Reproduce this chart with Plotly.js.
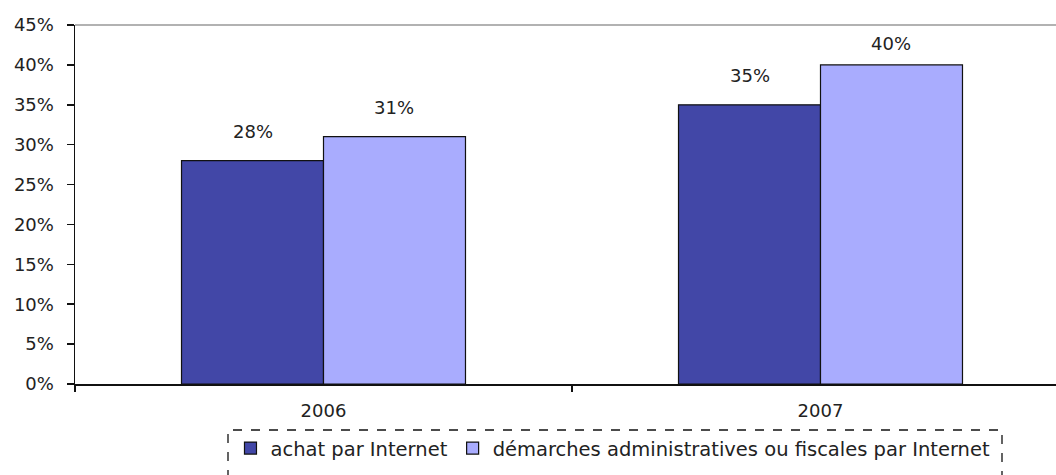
<!DOCTYPE html>
<html>
<head>
<meta charset="utf-8">
<script src="https://cdn.plot.ly/plotly-3.0.1.min.js"></script>
<style>html,body{margin:0;padding:0;background:#fff}#chart{width:1056px;height:475px}</style>
</head>
<body>
<div id="chart"></div>
<script>
const categories = ['2006', '2007'];
const seriesNames = ['achat par Internet', 'démarches administratives ou fiscales par Internet'];
const achat = [28, 35];
const demarches = [31, 40];
const yTickVals = [0, 5, 10, 15, 20, 25, 30, 35, 40, 45];
const yTickText = ['0%', '5%', '10%', '15%', '20%', '25%', '30%', '35%', '40%', '45%'];

const W = 1056, H = 475;
const mL = 75, mR = 0, mT = 25, mB = 91;
const plotW = W - mL - mR, plotH = H - mT - mB;
const bandPx = 497;
const xMax = -0.5 + plotW / bandPx;
const yMax = 45;
const pxPerUnit = plotH / yMax;
const bargap = 0.4286;
const barPx = bandPx * (1 - bargap) / 2;

const font = 'DejaVu Sans, Verdana, Arial, sans-serif';
const txt = '#222222';

const traces = [
  {type: 'bar', name: seriesNames[0], x: categories, y: achat,
   marker: {color: '#4247A7', line: {color: '#111111', width: 1.2}}, hoverinfo: 'skip'},
  {type: 'bar', name: seriesNames[1], x: categories, y: demarches,
   marker: {color: '#A9ACFE', line: {color: '#111111', width: 1.2}}, hoverinfo: 'skip'}
];

function shiftFor(v) {
  const toTop = (yMax - v) * pxPerUnit;
  return Math.min(29, toTop - 18);
}
const annotations = [];
[achat, demarches].forEach((arr, si) => {
  arr.forEach((v, i) => {
    annotations.push({
      x: i, y: v, xref: 'x', yref: 'y',
      text: v + '%', showarrow: false,
      xshift: (si === 0 ? -1 : 1) * barPx / 2,
      yshift: shiftFor(v), yanchor: 'middle', xanchor: 'center',
      font: {family: font, size: 18, color: txt}
    });
  });
});

const layout = {
  width: W, height: H,
  margin: {l: mL, r: mR, t: mT, b: mB, pad: 0},
  paper_bgcolor: '#ffffff', plot_bgcolor: '#ffffff',
  barmode: 'group', bargap: bargap, bargroupgap: 0,
  showlegend: true,
  legend: {
    orientation: 'h', x: 0.5484, xanchor: 'center', y: -0.125, yanchor: 'top',
    font: {family: font, size: 19.5, color: txt},
    bgcolor: 'rgba(0,0,0,0)', borderwidth: 0,
    itemclick: false, itemdoubleclick: false
  },
  xaxis: {
    type: 'category', range: [-0.5, xMax], fixedrange: true,
    showline: true, linecolor: '#111111', linewidth: 1.5,
    ticks: 'outside', tickson: 'boundaries', ticklen: 6, tickcolor: '#111111', tickwidth: 1.5,
    ticklabelstandoff: 10,
    tickfont: {family: font, size: 18, color: txt},
    showgrid: false, zeroline: false
  },
  yaxis: {
    range: [0, yMax], fixedrange: true,
    tickvals: yTickVals, ticktext: yTickText,
    showline: true, linecolor: '#111111', linewidth: 1.5,
    ticks: 'outside', ticklen: 7, tickcolor: '#111111', tickwidth: 1.5,
    ticklabelstandoff: 9,
    tickfont: {family: font, size: 18, color: txt},
    showgrid: false, zeroline: false
  },
  shapes: [
    {type: 'line', xref: 'paper', yref: 'paper', x0: 0, x1: 1, y0: 1, y1: 1,
     line: {color: '#999999', width: 1.5}},
    {type: 'rect', xref: 'paper', yref: 'paper',
     x0: (228 - mL) / plotW, x1: (1002 - mL) / plotW,
     y0: -(480 - mT - plotH) / plotH, y1: -(430 - mT - plotH) / plotH,
     line: {color: '#111111', width: 1.3, dash: 'dash'}, fillcolor: 'rgba(0,0,0,0)'}
  ],
  annotations: annotations
};

Plotly.newPlot('chart', traces, layout, {displayModeBar: false, staticPlot: true});
</script>
</body>
</html>
